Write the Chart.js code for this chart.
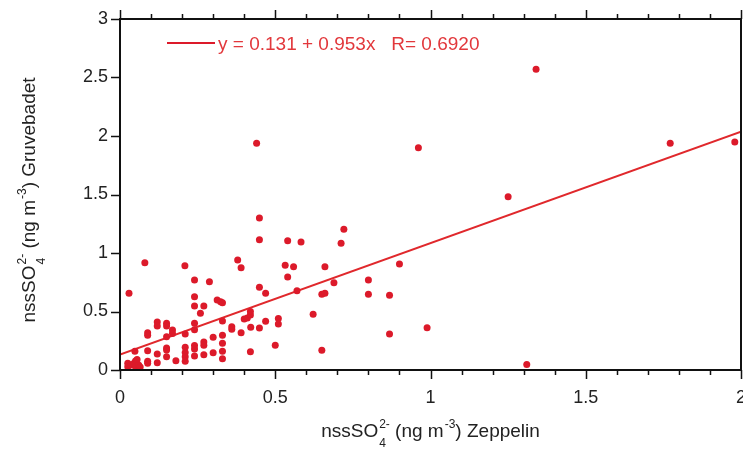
<!DOCTYPE html>
<html>
<head>
<meta charset="utf-8">
<script src="https://cdn.jsdelivr.net/npm/chart.js@4.4.1/dist/chart.umd.min.js"></script>
<style>
    html, body { margin: 0; padding: 0; background: #fff; overflow: hidden; }
    #wrap { position: relative; width: 760px; height: 451px; }
</style>
</head>
<body>
<div id="wrap"><canvas id="scatterChart" width="760" height="451"></canvas></div>
<script>
// nssSO4 at Zeppelin (x) and Gruvebadet (y)
const zeppelin = [
    0.025, 0.025, 0.035, 0.045, 0.05, 0.05, 0.06, 0.065, 0.055, 0.048,
    0.029, 0.080,
    0.089, 0.089, 0.089, 0.089, 0.089,
    0.12, 0.12, 0.12, 0.12,
    0.15, 0.15, 0.15, 0.15, 0.15, 0.15,
    0.169, 0.169, 0.18, 0.209,
    0.21, 0.21, 0.21, 0.21, 0.21,
    0.24, 0.24, 0.24, 0.24, 0.24, 0.24, 0.24, 0.24,
    0.27, 0.259, 0.27, 0.27, 0.27, 0.288,
    0.30, 0.30, 0.313, 0.324, 0.33,
    0.33, 0.33, 0.33, 0.33, 0.33,
    0.36, 0.36, 0.379, 0.39, 0.39,
    0.40, 0.41, 0.42, 0.42, 0.421, 0.42,
    0.44, 0.449, 0.449, 0.449, 0.449, 0.469, 0.469,
    0.50, 0.51, 0.51, 0.532, 0.540, 0.540, 0.559, 0.570, 0.583,
    0.622, 0.65, 0.66, 0.65, 0.66, 0.689, 0.712, 0.721,
    0.80, 0.80, 0.868, 0.868, 0.90, 0.961, 0.989,
    1.25, 1.31, 1.34, 1.772, 1.98
];
const gruvebadet = [
    0.057, 0.028, 0.043, 0.057, 0.077, 0.028, 0.043, 0.025, 0.09, 0.16,
    0.656, 0.917,
    0.319, 0.297, 0.165, 0.074, 0.057,
    0.41, 0.376, 0.137, 0.063,
    0.399, 0.376, 0.285, 0.188, 0.171, 0.114,
    0.342, 0.313, 0.08, 0.89,
    0.308, 0.194, 0.15, 0.114, 0.075,
    0.77, 0.627, 0.547, 0.399, 0.345, 0.21, 0.18, 0.12,
    0.547, 0.484, 0.239, 0.211, 0.131, 0.755,
    0.28, 0.148, 0.598, 0.584, 0.575,
    0.419, 0.297, 0.228, 0.16, 0.097,
    0.37, 0.348, 0.94, 0.875, 0.319,
    0.435, 0.445, 0.47, 0.50, 0.365, 0.157,
    1.937, 1.30, 1.114, 0.707, 0.359, 0.656, 0.416,
    0.211, 0.44, 0.393, 0.895, 1.105, 0.795, 0.883, 0.678, 1.094,
    0.476, 0.647, 0.655, 0.168, 0.883, 0.746, 1.083, 1.202,
    0.77, 0.647, 0.638, 0.308, 0.906, 1.90, 0.362,
    1.48, 0.048, 2.57, 1.937, 1.949
];

const xTickLabels = ['0', '0.5', '1', '1.5', '2'];
const yTickLabels = ['0', '0.5', '1', '1.5', '2', '2.5', '3'];

// linear fit shown in the legend
const fitIntercept = 0.131;
const fitSlope = 0.953;
const fitLabel = 'y = 0.131 + 0.953x   R= 0.6920';

// axis titles: plain text pieces plus stacked sub/superscripts
const xTitleParts = [{ text: 'nssSO' }, { sub: '4', sup: '2-' }, { text: ' (ng m' }, { sup: '-3' }, { text: ') Zeppelin' }];
const yTitleParts = [{ text: 'nssSO' }, { sub: '4', sup: '2-' }, { text: ' (ng m' }, { sup: '-3' }, { text: ') Gruvebadet' }];

const RED = '#dc1a2a';
const FONT = "'Liberation Sans', Arial, sans-serif";

document.addEventListener('DOMContentLoaded', function() {
    initializeScatterChart();
});

// draw text with stacked sub/superscripts, centred on x = 0, baseline y = 0
function drawRichText(ctx, parts) {
    const mainFont = '19px ' + FONT;
    const smallFont = '12px ' + FONT;
    const widths = parts.map(p => {
        if (p.text) { ctx.font = mainFont; return ctx.measureText(p.text).width; }
        ctx.font = smallFont;
        return Math.max(p.sub ? ctx.measureText(p.sub).width : 0, p.sup ? ctx.measureText(p.sup).width : 0) + 1;
    });
    let x = -widths.reduce((a, b) => a + b, 0) / 2;
    ctx.textAlign = 'left';
    ctx.textBaseline = 'alphabetic';
    parts.forEach((p, i) => {
        if (p.text) {
            ctx.font = mainFont;
            ctx.fillText(p.text, x, 0);
        } else {
            ctx.font = smallFont;
            if (p.sub) ctx.fillText(p.sub, x + 1, 10);
            if (p.sup) ctx.fillText(p.sup, x + 1, -9);
        }
        x += widths[i];
    });
}

// frame, minor ticks, top ticks, legend and titles
const framePlugin = {
    id: 'frame',
    afterDatasetsDraw(chart) {
        const ctx = chart.ctx;
        const area = chart.chartArea;
        const xs = chart.scales.x;
        const ys = chart.scales.y;
        ctx.save();
        ctx.strokeStyle = '#111';
        ctx.lineWidth = 2;
        ctx.strokeRect(area.left, area.top, area.right - area.left, area.bottom - area.top);

        ctx.lineWidth = 1.5;
        ctx.beginPath();
        for (let i = 0; i <= 20; i++) {
            const px = Math.round(xs.getPixelForValue(i / 10)) + 0.5;
            const len = i % 5 === 0 ? 9 : 5;
            ctx.moveTo(px, area.bottom);
            ctx.lineTo(px, area.bottom + len);
            ctx.moveTo(px, area.top);
            ctx.lineTo(px, area.top - len);
        }
        yTickLabels.forEach(label => {
            const py = Math.round(ys.getPixelForValue(parseFloat(label))) + 0.5;
            ctx.moveTo(area.left - 9, py);
            ctx.lineTo(area.left, py);
        });
        ctx.stroke();

        // legend
        ctx.strokeStyle = RED;
        ctx.lineWidth = 2;
        ctx.beginPath();
        ctx.moveTo(167, 43);
        ctx.lineTo(215, 43);
        ctx.stroke();
        ctx.fillStyle = '#e2383c';
        ctx.font = '19px ' + FONT;
        ctx.textAlign = 'left';
        ctx.textBaseline = 'alphabetic';
        ctx.fillText(fitLabel, 218, 50);

        // axis titles
        ctx.fillStyle = '#222';
        ctx.save();
        ctx.translate((area.left + area.right) / 2, 437);
        drawRichText(ctx, xTitleParts);
        ctx.restore();
        ctx.save();
        ctx.translate(35, 200);
        ctx.rotate(-Math.PI / 2);
        drawRichText(ctx, yTitleParts);
        ctx.restore();
        ctx.restore();
    }
};

function initializeScatterChart() {
    const ctx = document.getElementById('scatterChart').getContext('2d');
    const points = zeppelin.map((x, i) => ({ x: x, y: gruvebadet[i] }));
    const fitLine = [
        { x: 0, y: fitIntercept },
        { x: 2, y: fitIntercept + fitSlope * 2 }
    ];

    window.scatterChartInstance = new Chart(ctx, {
        type: 'scatter',
        data: {
            datasets: [
                {
                    label: 'data',
                    data: points,
                    backgroundColor: RED,
                    borderWidth: 0,
                    pointRadius: 3.5,
                    clip: false
                },
                {
                    label: 'fit',
                    type: 'line',
                    data: fitLine,
                    borderColor: '#e0282c',
                    borderWidth: 2,
                    pointRadius: 0,
                    fill: false
                }
            ]
        },
        options: {
            responsive: false,
            animation: false,
            layout: { padding: { top: 19, right: 19, left: 0, bottom: 0 } },
            plugins: {
                legend: { display: false },
                tooltip: { enabled: false }
            },
            scales: {
                x: {
                    type: 'linear',
                    min: 0,
                    max: 2,
                    afterFit: function(scale) { scale.height = 81; },
                    afterBuildTicks: function(scale) {
                        scale.ticks = xTickLabels.map(v => ({ value: parseFloat(v) }));
                    },
                    grid: { display: false },
                    border: { display: false },
                    ticks: {
                        padding: 9,
                        color: '#222',
                        font: { family: FONT, size: 18 },
                        maxRotation: 0,
                        callback: function(value, index) { return xTickLabels[index]; }
                    }
                },
                y: {
                    type: 'linear',
                    min: 0,
                    max: 3,
                    afterFit: function(scale) { scale.width = 120; },
                    afterBuildTicks: function(scale) {
                        scale.ticks = yTickLabels.map(v => ({ value: parseFloat(v) }));
                    },
                    grid: { display: false },
                    border: { display: false },
                    ticks: {
                        padding: 4,
                        color: '#222',
                        font: { family: FONT, size: 18 },
                        callback: function(value, index) { return yTickLabels[index]; }
                    }
                }
            }
        },
        plugins: [framePlugin]
    });
}
</script>
</body>
</html>
